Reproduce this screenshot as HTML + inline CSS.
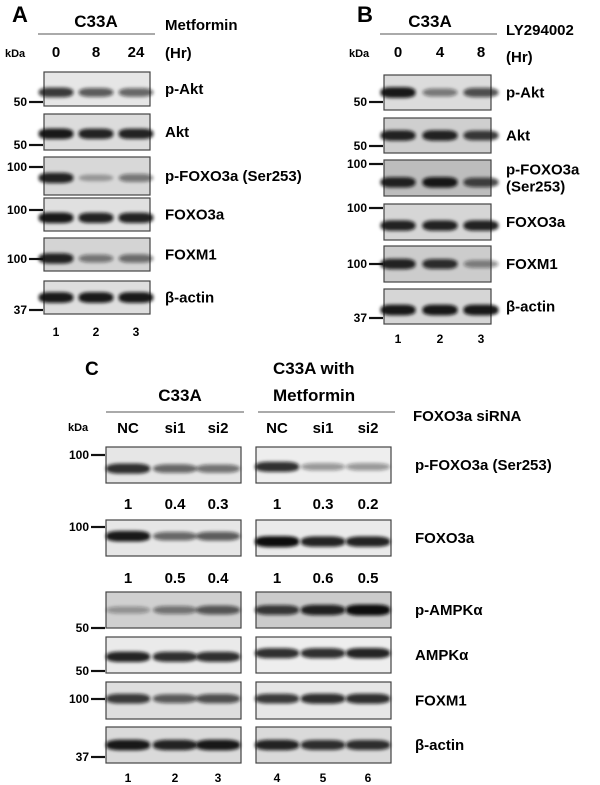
<!DOCTYPE html>
<html><head><meta charset="utf-8"><style>
html,body{margin:0;padding:0;background:#fff;}
svg{display:block;font-family:"Liberation Sans",Arial,sans-serif;font-weight:bold;}
</style></head><body>
<svg id="fig" width="600" height="785" viewBox="0 0 600 785" xmlns="http://www.w3.org/2000/svg">
<defs>
<filter id="blur" x="-20%" y="-100%" width="140%" height="300%"><feGaussianBlur stdDeviation="1.6"/></filter>
</defs>
<!-- Panel A headers -->
<text x="12" y="22" font-size="22">A</text>
<text x="96" y="27" font-size="17" text-anchor="middle">C33A</text>
<line x1="38" y1="34" x2="155" y2="34" stroke="#555" stroke-width="1"/>
<text x="165" y="30" font-size="15">Metformin</text>
<text x="165" y="58" font-size="15">(Hr)</text>
<text x="5" y="57" font-size="11">kDa</text>
<!-- Panel B headers -->
<text x="357" y="22" font-size="22">B</text>
<text x="430" y="27" font-size="17" text-anchor="middle">C33A</text>
<line x1="380" y1="34" x2="497" y2="34" stroke="#555" stroke-width="1"/>
<text x="506" y="35" font-size="15">LY294002</text>
<text x="506" y="62" font-size="15">(Hr)</text>
<text x="349" y="57" font-size="11">kDa</text>
<!-- Panel C headers -->
<text x="85" y="375" font-size="19">C</text>
<text x="180" y="401" font-size="17" text-anchor="middle">C33A</text>
<line x1="106" y1="412" x2="244" y2="412" stroke="#555" stroke-width="1"/>
<text x="273" y="374" font-size="17">C33A with</text>
<text x="273" y="401" font-size="17">Metformin</text>
<line x1="258" y1="412" x2="395" y2="412" stroke="#555" stroke-width="1"/>
<text x="413" y="421" font-size="15">FOXO3a siRNA</text>
<text x="68" y="431" font-size="11">kDa</text>
<g id="dyn"></g>
</svg>
<script>
// ---- data ----
const laneLabelsA = ["0","8","24"];
const laneLabelsB = ["0","4","8"];
const laneLabelsC = ["NC","si1","si2","NC","si1","si2"];
const laneNumbersAB = ["1","2","3"];
const laneNumbersC = ["1","2","3","4","5","6"];
const proteinsA = ["p-Akt","Akt","p-FOXO3a (Ser253)","FOXO3a","FOXM1","β-actin"];
const proteinsB = ["p-Akt","Akt","p-FOXO3a|(Ser253)","FOXO3a","FOXM1","β-actin"];
const proteinsC = ["p-FOXO3a (Ser253)","FOXO3a","p-AMPKα","AMPKα","FOXM1","β-actin"];
const intensityA = [[0.8,0.65,0.6],[0.95,0.9,0.9],[0.9,0.3,0.5],[0.95,0.9,0.9],[0.9,0.5,0.55],[0.95,0.95,0.95]];
const intensityB = [[0.95,0.5,0.7],[0.9,0.9,0.8],[0.9,0.95,0.75],[0.9,0.9,0.9],[0.9,0.85,0.45],[0.95,0.95,0.95]];
const intensityCL = [[0.85,0.6,0.55],[0.95,0.6,0.65],[0.35,0.5,0.65],[0.9,0.85,0.85],[0.8,0.65,0.7],[0.95,0.9,0.95]];
const intensityCR = [[0.85,0.4,0.4],[1,0.9,0.9],[0.8,0.9,1],[0.85,0.85,0.9],[0.8,0.85,0.85],[0.9,0.85,0.85]];
const quantPFOXO = ["1","0.4","0.3","1","0.3","0.2"];
const quantFOXO = ["1","0.5","0.4","1","0.6","0.5"];
const markersA = ["50","50","100","100","100","37"];
const markersB = ["50","50","100","100","100","37"];
const markersC = ["100","100","50","50","100","37"];

const NS="http://www.w3.org/2000/svg";
const g=document.getElementById('dyn');
function mk(tag,attrs,parent){const e=document.createElementNS(NS,tag);for(const k in attrs)e.setAttribute(k,attrs[k]);(parent||g).appendChild(e);return e;}
function txt(x,y,s,size,anchor){const t=mk('text',{x:x,y:y,'font-size':size,'text-anchor':anchor||'start'});t.textContent=s;return t;}

const layoutA={x0:44,x1:150,lanes:[56,96,136],rows:[[72,106],[114,150],[157,195],[198,231],[238,271],[281,314]],bandF:[0.6,0.55,0.55,0.6,0.62,0.5],mk:[102,145,167,210,259,310],bg:['#e6e6e6','#dcdcdc','#d8d8d8','#e0e0e0','#d4d4d4','#dedede']};
const layoutB={x0:384,x1:491,lanes:[398,440,481],rows:[[75,110],[118,153],[160,196],[204,240],[246,282],[289,324]],bandF:[0.5,0.5,0.62,0.6,0.5,0.6],mk:[102,146,164,208,264,318],bg:['#dcdcdc','#cfcfcf','#bdbdbd','#d6d6d6','#cccccc','#d6d6d6']};
const rowsC=[[447,483],[520,556],[592,628],[637,673],[682,719],[727,763]];
const mkC=[455,527,628,671,699,757];
const layoutCL={x0:106,x1:241,lanes:[128,175,218],rows:rowsC,bandF:[0.6,0.45,0.5,0.55,0.45,0.5],bg:['#e6e6e6','#e6e6e6','#d0d0d0','#eaeaea','#dedede','#dadada']};
const layoutCR={x0:256,x1:391,lanes:[277,323,368],rows:rowsC,bandF:[0.55,0.6,0.5,0.45,0.45,0.5],bg:['#eeeeee','#eaeaea','#cbcbcb','#eeeeee','#e6e6e6','#dadada']};

function drawBlots(L,inten,name){
  L.rows.forEach((r,i)=>{
    const h=r[1]-r[0];
    const rect=mk('rect',{x:L.x0,y:r[0],width:L.x1-L.x0,height:h,fill:L.bg[i],stroke:'#444','stroke-width':1.2});
    
    
    const lw=(L.x1-L.x0)/3;
    inten[i].forEach((v,j)=>{
      const cy=r[0]+h*L.bandF[i];
      const e=mk('rect',{x:L.lanes[j]-lw*0.49,y:cy-(2.5+v*3),width:lw*0.98,height:2*(2.5+v*3),rx:lw*0.3,ry:4,fill:'#111','fill-opacity':v,filter:'url(#blur)'});
      
      
    });
  });
}
function drawMarkers(ys,labels,tickX0,tickX1,name){
  ys.forEach((y,i)=>{
    const l=mk('line',{x1:tickX0,y1:y,x2:tickX1,y2:y,stroke:'#111','stroke-width':2.2});
    
    
    const t=txt(tickX0-2,y+4,labels[i],12,'end');
    
    
  });
}
function drawProteins(L,labels,x,name){
  L.rows.forEach((r,i)=>{
    const parts=labels[i].split('|');
    const cy=(r[0]+r[1])/2;
    parts.forEach((p,k)=>{
      const y=cy+5+(k-(parts.length-1)/2)*17;
      const t=txt(x,y,p,15);
      
      
    });
  });
}
function drawLaneText(xs,labels,y,size,name){
  xs.forEach((x,j)=>{
    const t=txt(x,y,labels[j],size,'middle');
    
    
  });
}

drawBlots(layoutA,intensityA,'panel-a');
drawMarkers(layoutA.mk,markersA,29,43,'panel-a');
drawProteins(layoutA,proteinsA,165,'panel-a');
drawLaneText(layoutA.lanes,laneLabelsA,57,15,'panel-a-time');
drawLaneText(layoutA.lanes,laneNumbersAB,336,12,'panel-a-lane-number');
drawBlots(layoutB,intensityB,'panel-b');
drawMarkers(layoutB.mk,markersB,369,383,'panel-b');
drawProteins(layoutB,proteinsB,506,'panel-b');
drawLaneText(layoutB.lanes,laneLabelsB,57,15,'panel-b-time');
drawLaneText(layoutB.lanes,laneNumbersAB,343,12,'panel-b-lane-number');
drawBlots(layoutCL,intensityCL,'panel-c-left');
drawBlots(layoutCR,intensityCR,'panel-c-right');
drawMarkers(mkC,markersC,91,105,'panel-c');
drawProteins(layoutCL,proteinsC,415,'panel-c');
const lanesC=layoutCL.lanes.concat(layoutCR.lanes);
drawLaneText(lanesC,laneLabelsC,433,15,'panel-c-sirna');
drawLaneText(lanesC,quantPFOXO,509,15,'panel-c-pfoxo3a-quant');
drawLaneText(lanesC,quantFOXO,583,15,'panel-c-foxo3a-quant');
drawLaneText(lanesC,laneNumbersC,782,12,'panel-c-lane-number');
</script>
</body></html>
